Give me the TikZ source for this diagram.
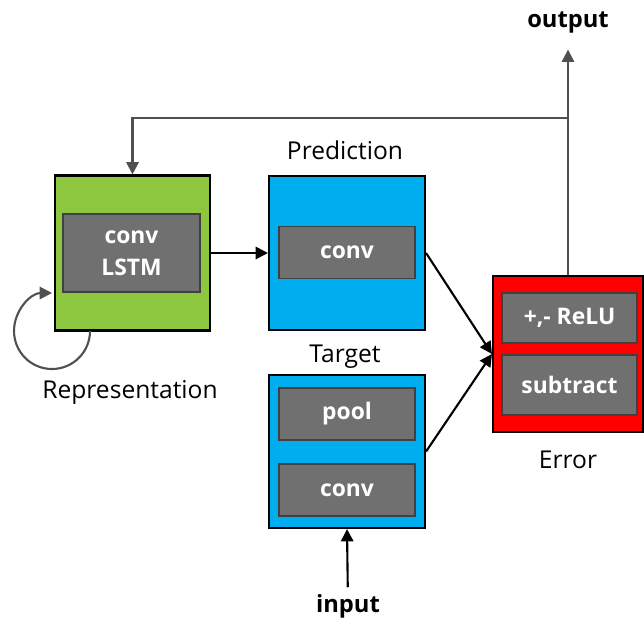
\documentclass[tikz,border=0pt]{standalone}
\usepackage{fontspec}
\setmainfont{Open Sans}
\usetikzlibrary{arrows.meta}

\definecolor{repgreen}{HTML}{8DC63F}
\definecolor{predblue}{HTML}{00AEEF}
\definecolor{errred}{HTML}{FF0000}
\definecolor{unitgray}{HTML}{707070}
\definecolor{wiregray}{HTML}{505050}

\def\px{0.02cm}

\tikzset{
  block/.style={draw=black, line width=1.2pt, inner sep=0pt},
  unit/.style={draw=black!75, fill=unitgray, line width=0.8pt, text=white,
    font=\bfseries\fontsize{13}{14}\selectfont, align=center, inner sep=0pt,
    minimum width=136*\px, minimum height=52*\px},
  caption/.style={font=\fontsize{14}{16}\selectfont},
  port/.style={font=\bfseries\fontsize{13.5}{15}\selectfont},
}

\begin{document}
\begin{tikzpicture}[x=\px, y=-\px, line width=1.2pt,
    >={Triangle[length=7pt,width=7pt]}]
    \useasboundingbox (0,0) rectangle (644,626);

    %%   blocks
    \node[block, fill=repgreen,  minimum width=155*\px, minimum height=155*\px] (R) at (132.5,253) {};
    \node[block, fill=predblue,  minimum width=156*\px, minimum height=154*\px] (P) at (347,253)   {};
    \node[block, fill=predblue,  minimum width=156*\px, minimum height=153*\px] (T) at (347,451.5) {};
    \node[block, fill=errred,    minimum width=150*\px, minimum height=156*\px] (E) at (568,354)   {};

    %%   units inside the blocks
    \node[unit, minimum width=137*\px, minimum height=78*\px] (RL) at (131.5,253) {conv\\[4pt]LSTM};
    \node[unit] (PC)  at (347,252.5) {conv};
    \node[unit] (TP)  at (347,414)   {pool};
    \node[unit] (TC)  at (347,490)   {conv};
    \node[unit, minimum width=135*\px, minimum height=50*\px] (EU) at (569.5,318) {+,- ReLU};
    \node[unit, minimum width=135*\px, minimum height=60*\px] (ES) at (569.5,385) {subtract};

    %%   captions
    \node[caption] (Rlab) at (130,392) {Representation};
    \node[caption] (Plab) at (345,150) {Prediction};
    \node[caption] (Tlab) at (345,357) {Target};
    \node[caption] (Elab) at (568,460) {Error};
    \node[port]    (out)  at (568,22)  {output};
    \node[port]    (inp)  at (348,606) {input};

    \coordinate (fb)   at (568,118);
    \coordinate (loop) at (90,331);

    \draw[->] (R) -- (P);
    \draw[->] (P.east) -- (E.west);
    \draw[->] (T.east) -- (E.west);
    \draw[->] (inp) -- (T.south);
    \draw[->, wiregray, shorten >=0.2cm] (E.north) -- (out.south);
    \draw[->, wiregray] (fb) -- (fb -| R) -- (R.north);
    \draw[->, wiregray] (loop) arc[start angle=0, end angle=-270, radius=0.76cm];

\end{tikzpicture}
\end{document}
